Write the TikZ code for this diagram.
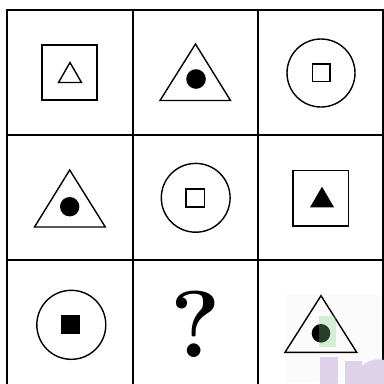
\documentclass[tikz,border=0pt]{standalone}
\definecolor{wmgreen}{RGB}{128,204,128}
\definecolor{wmlav}{RGB}{221,210,234}
\tikzset{gridline/.style={line width=1.1pt},
  figline/.style={line width=0.8pt, line join=miter}}
\begin{document}
\begin{tikzpicture}[x=0.02cm,y=-0.02cm]
\useasboundingbox (0,0) rectangle (384,383);
\clip (0,0) rectangle (384,383);
\fill[white] (0,0) rectangle (384,383);
\fill[black!1.5] (285,294) rectangle (384,383);
% grid
\draw[gridline] (7,10) rectangle (383,386);
\draw[gridline] (133,10)--(133,386) (258,10)--(258,386);
\draw[gridline] (7,135)--(383,135) (7,260)--(383,260);
% row 1
\draw[figline] (42,45) rectangle (97,100);
\draw[figline] (58.5,82.5) -- (70,62.5) -- (81.5,82.5) -- cycle;
\draw[figline] (160,100.5) -- (195.5,44) -- (230.5,100.5) -- cycle;
\fill (196,79) circle (9.8);
\draw[figline] (321,73) circle (34);
\draw[figline] (312.5,64) rectangle (330,81.5);
% row 2
\draw[figline] (34.5,227) -- (69.7,170) -- (105.3,227) -- cycle;
\fill (69.7,206.7) circle (9.7);
\draw[figline] (195.7,197.8) circle (34.4);
\draw[figline] (186,189) rectangle (204.3,207);
\draw[figline] (293,170.7) rectangle (348.7,226);
\fill (310,207.3) -- (322,186.7) -- (334,207.3) -- cycle;
% row 3
\draw[figline] (71.3,324.8) circle (34.5);
\fill (61.3,315) rectangle (80,334.3);
\node[inner sep=0pt] (q) at (195.5,324.6) {\fontsize{54}{54}\selectfont\bfseries ?};
\draw[figline] (285,352.3) -- (321,295.7) -- (356.7,352.3) -- cycle;
\fill (321,333.3) circle (9.3);
% watermark
\fill[wmgreen,opacity=0.3] (319.3,316) rectangle (335.5,346.5);
\fill[wmlav] (320,357) rectangle (338,384);
\fill[wmlav] (345,361) -- (362,361) -- (362,366) .. controls (368,360) and (378,358) .. (384,360)
  -- (384,384) -- (345,384) -- cycle;
\end{tikzpicture}
\end{document}
